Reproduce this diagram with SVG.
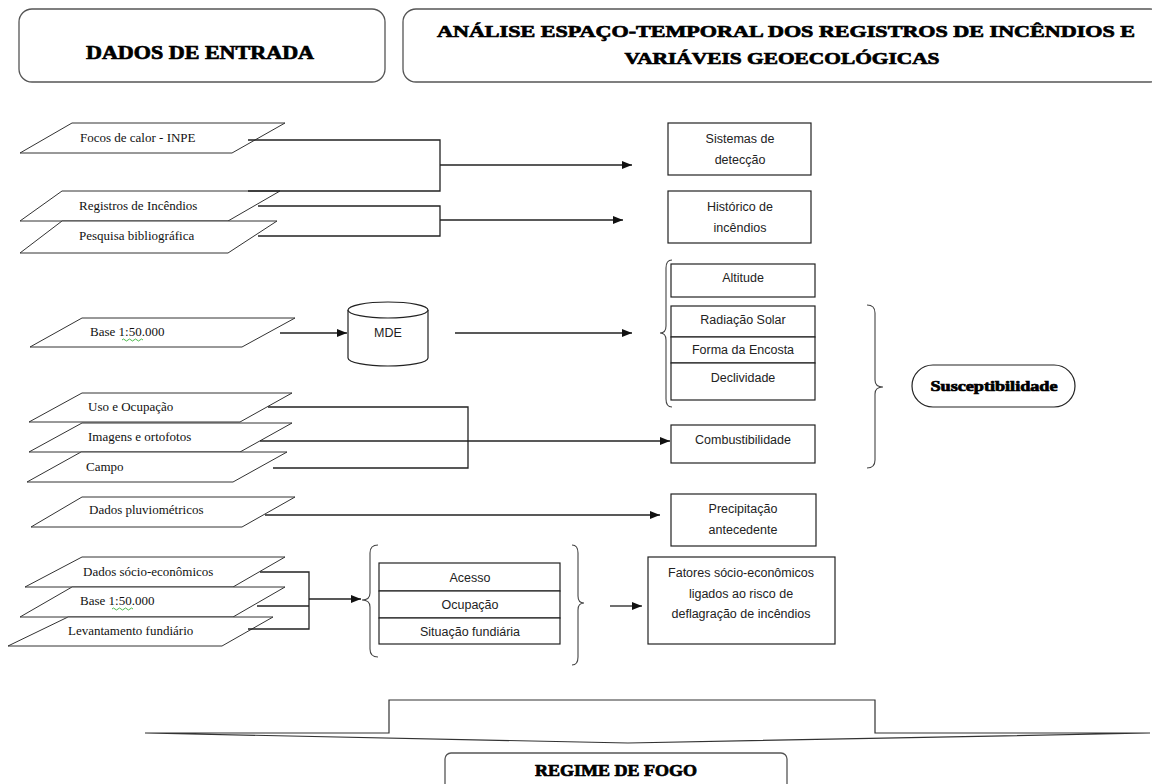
<svg xmlns="http://www.w3.org/2000/svg" width="1152" height="784" viewBox="0 0 1152 784">
<style>
.hdr{fill:#fff;stroke:#555;stroke-width:1.3}
.hdrt{font-family:"Liberation Serif",serif;font-weight:bold;fill:#000;stroke:#000;stroke-width:0.7;text-anchor:middle}
.para{fill:#fff;stroke:#333;stroke-width:1}
.in{font-family:"Liberation Serif",serif;font-size:13px;fill:#111}
.box{fill:#fff;stroke:#222;stroke-width:1.2}
.bt{font-family:"Liberation Sans",sans-serif;font-size:12.5px;fill:#222;text-anchor:middle}
.ln{fill:none;stroke:#222;stroke-width:1.3}
.arr{fill:none;stroke:#222;stroke-width:1.3;marker-end:url(#ah)}
.br{fill:none;stroke:#444;stroke-width:1.1}
.sq{fill:none;stroke:#2a2;stroke-width:0.8}
</style>
<defs>
<marker id="ah" markerWidth="10" markerHeight="8" refX="10" refY="4" orient="auto" markerUnits="userSpaceOnUse">
<path d="M0,0 L10,4 L0,8 Z" fill="#111"/>
</marker>
</defs>
<rect width="1152" height="784" fill="#fff"/>

<g id="hdr-entrada">
<rect class="hdr" x="19" y="9" width="366" height="73" rx="13"/>
<text class="hdrt" x="200" y="59" font-size="19" textLength="228" lengthAdjust="spacingAndGlyphs">DADOS DE ENTRADA</text>
</g>
<g id="hdr-analise">
<rect class="hdr" x="403" y="9" width="760" height="73" rx="13"/>
<text class="hdrt" x="786" y="37" font-size="17" textLength="698" lengthAdjust="spacingAndGlyphs">ANÁLISE ESPAÇO-TEMPORAL DOS REGISTROS DE INCÊNDIOS E</text>
<text class="hdrt" x="782" y="64" font-size="17" textLength="315" lengthAdjust="spacingAndGlyphs">VARIÁVEIS GEOECOLÓGICAS</text>
</g>

<g id="in-focos">
<polygon class="para" points="72,123 285,123 232,153 20,153"/>
<text class="in" x="80" y="142">Focos de calor - INPE</text>
</g>
<g id="in-registros">
<polygon class="para" points="62,191 280,191 228,221 20,221"/>
<text class="in" x="79" y="210">Registros de Incêndios</text>
</g>
<g id="in-pesquisa">
<polygon class="para" points="62,221 277,221 228,253 20,253"/>
<text class="in" x="79" y="240">Pesquisa bibliográfica</text>
</g>
<g id="in-base1">
<polygon class="para" points="82,318 295,318 242,347 30,347"/>
<text class="in" x="90" y="336">Base 1:50.000</text>
<path class="sq" d="M122,340 q1.5,-2 3,0 t3,0 t3,0 t3,0 t3,0 t3,0 t3,0"/>
</g>
<g id="in-uso">
<polygon class="para" points="82,393 292,393 240,422 29,422"/>
<text class="in" x="88" y="411">Uso e Ocupação</text>
</g>
<g id="in-imagens">
<polygon class="para" points="82,423 292,423 240,452 29,452"/>
<text class="in" x="88" y="441">Imagens e ortofotos</text>
</g>
<g id="in-campo">
<polygon class="para" points="81,452 287,452 233,482 27,482"/>
<text class="in" x="86" y="471">Campo</text>
</g>
<g id="in-pluvio">
<polygon class="para" points="82,497 295,497 242,527 31,527"/>
<text class="in" x="89" y="514">Dados pluviométricos</text>
</g>
<g id="in-socio">
<polygon class="para" points="82,557 285,557 233,587 25,587"/>
<text class="in" x="83" y="576">Dados sócio-econômicos</text>
</g>
<g id="in-base2">
<polygon class="para" points="72,587 285,587 233,617 20,617"/>
<text class="in" x="80" y="605">Base 1:50.000</text>
<path class="sq" d="M112,609 q1.5,-2 3,0 t3,0 t3,0 t3,0 t3,0 t3,0 t3,0"/>
</g>
<g id="in-levantamento">
<polygon class="para" points="68,617 273,617 222,646 8,646"/>
<text class="in" x="68" y="635">Levantamento fundiário</text>
</g>

<g id="mde">
<path class="box" d="M348,310 L348,358 A40,8 0 0 0 428,358 L428,310"/>
<ellipse class="box" cx="388" cy="310" rx="40" ry="8"/>
<text class="bt" x="388" y="337">MDE</text>
</g>

<g id="sistemas">
<rect class="box" x="668" y="123" width="143" height="52"/>
<text class="bt" x="740" y="143">Sistemas de</text>
<text class="bt" x="740" y="164">detecção</text>
</g>
<g id="historico">
<rect class="box" x="668" y="191" width="143" height="52"/>
<text class="bt" x="740" y="211">Histórico de</text>
<text class="bt" x="740" y="232">incêndios</text>
</g>
<g id="altitude">
<rect class="box" x="671" y="264" width="144" height="33"/>
<text class="bt" x="743" y="282">Altitude</text>
</g>
<g id="radiacao">
<rect class="box" x="671" y="306" width="144" height="31"/>
<text class="bt" x="743" y="324">Radiação Solar</text>
</g>
<g id="forma">
<rect class="box" x="671" y="337" width="144" height="26"/>
<text class="bt" x="743" y="354">Forma da Encosta</text>
</g>
<g id="declividade">
<rect class="box" x="671" y="363" width="144" height="37"/>
<text class="bt" x="743" y="382">Declividade</text>
</g>
<g id="combustibilidade">
<rect class="box" x="671" y="425" width="144" height="38"/>
<text class="bt" x="743" y="444">Combustibilidade</text>
</g>
<g id="precipitacao">
<rect class="box" x="671" y="494" width="145" height="52"/>
<text class="bt" x="743" y="513">Precipitação</text>
<text class="bt" x="743" y="534">antecedente</text>
</g>
<g id="suscetibilidade">
<rect class="box" x="912" y="365" width="163" height="42" rx="21"/>
<text class="hdrt" x="994" y="391" font-size="14" stroke-width="0.4" textLength="127" lengthAdjust="spacingAndGlyphs">Susceptibilidade</text>
</g>
<g id="acesso">
<rect class="box" x="379" y="563" width="181" height="28"/>
<text class="bt" x="470" y="582">Acesso</text>
</g>
<g id="ocupacao">
<rect class="box" x="379" y="591" width="181" height="27"/>
<text class="bt" x="470" y="609">Ocupação</text>
</g>
<g id="situacao">
<rect class="box" x="379" y="618" width="181" height="26"/>
<text class="bt" x="470" y="636">Situação fundiária</text>
</g>
<g id="fatores">
<rect class="box" x="648" y="557" width="187" height="87"/>
<text class="bt" x="741" y="577">Fatores sócio-econômicos</text>
<text class="bt" x="741" y="598">ligados ao risco de</text>
<text class="bt" x="741" y="618">deflagração de incêndios</text>
</g>

<g id="connectors">
<path class="ln" d="M248,140 L440,140 L440,191 L248,191"/>
<path class="arr" d="M440,165 L632,165"/>
<path class="ln" d="M258,206 L440,206 L440,236 L258,236"/>
<path class="arr" d="M440,220 L623,220"/>
<path class="arr" d="M280,333 L347,333"/>
<path class="arr" d="M455,333 L632,333"/>
<path class="ln" d="M268,407 L468,407 L468,468 L273,468"/>
<path class="arr" d="M260,441 L670,441"/>
<path class="arr" d="M265,515 L660,515"/>
<path class="ln" d="M260,572 L309,572 L309,629 L248,629"/>
<path class="ln" d="M257,606 L309,606"/>
<path class="arr" d="M309,599 L361,599"/>
<path class="arr" d="M610,606 L642,606"/>
<path class="br" d="M672,260 Q666,260 666,268 L666,326 Q666,333 660,333 Q666,333 666,340 L666,399 Q666,407 672,407"/>
<path class="br" d="M867,305 Q875,305 875,313 L875,380 Q875,387 883,387 Q875,387 875,394 L875,460 Q875,468 867,468"/>
<path class="br" d="M378,545 Q370,545 370,553 L370,593 Q370,600 362,600 Q370,600 370,607 L370,649 Q370,657 378,657"/>
<path class="br" d="M572,545 Q578,545 578,553 L578,596 Q578,603 584,603 Q578,603 578,610 L578,657 Q578,665 572,665"/>
</g>

<g id="regime">
<path fill="#fff" stroke="#333" stroke-width="1.2" d="M145,733 L389,733 L389,700 L875,700 L875,733 L1150,733 L628,743 Z"/>
<rect class="hdr" x="445" y="753" width="342" height="40" rx="6"/>
<text class="hdrt" x="616" y="776" font-size="16" textLength="162" lengthAdjust="spacingAndGlyphs">REGIME DE FOGO</text>
</g>
</svg>
